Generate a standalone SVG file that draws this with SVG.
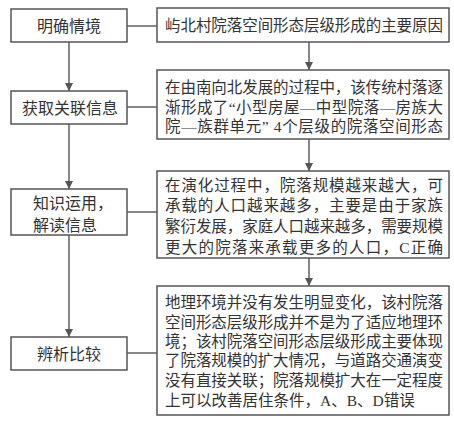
<svg xmlns="http://www.w3.org/2000/svg" width="454" height="426" viewBox="0 0 454 426">
<style>
.box{fill:#fff;stroke:#555;stroke-width:1.5}
.ln{fill:none;stroke:#555;stroke-width:1.4}
text{font-family:"Liberation Serif","Noto Sans CJK SC",serif;fill:#333}
.l{font-size:16px}
.r{font-size:15.5px}
.c{text-anchor:middle}
</style>
<defs>
<marker id="ah" markerWidth="8" markerHeight="10" refX="8" refY="4" orient="auto" markerUnits="userSpaceOnUse">
<path d="M0,0 L8,4 L0,8 Z" fill="#555"/>
</marker>
</defs>
<rect width="454" height="426" fill="#fff"/>
<g id="connectors">
<path class="ln" d="M69,42 V91" marker-end="url(#ah)"/>
<path class="ln" d="M69,124 V189" marker-end="url(#ah)"/>
<path class="ln" d="M69,235 V337" marker-end="url(#ah)"/>
<path class="ln" d="M309,42 V70" marker-end="url(#ah)"/>
<path class="ln" d="M309,139 V171" marker-end="url(#ah)"/>
<path class="ln" d="M309,258 V286" marker-end="url(#ah)"/>
<path class="ln" d="M127,26 H157"/>
<path class="ln" d="M127,107 H157"/>
<path class="ln" d="M127,212 H157"/>
<path class="ln" d="M127,353 H157"/>
</g>
<g id="n1">
<rect class="box" x="11" y="9" width="116" height="33"/>
<text class="l c" x="69" y="31.5">明确情境</text>
</g>
<g id="n2">
<rect class="box" x="11" y="91" width="116" height="33"/>
<text class="l c" x="70" y="113.5">获取关联信息</text>
</g>
<g id="n3">
<rect class="box" x="11" y="189" width="116" height="46"/>
<text class="l" x="33" y="209">知识运用，</text>
<text class="l" x="33" y="231">解读信息</text>
</g>
<g id="n4">
<rect class="box" x="11" y="337" width="116" height="33"/>
<text class="l c" x="69" y="360">辨析比较</text>
</g>
<g id="r1">
<rect class="box" x="157" y="8" width="292" height="34"/>
<text class="r" x="165" y="31" textLength="278" lengthAdjust="spacing">屿北村院落空间形态层级形成的主要原因</text>
</g>
<g id="r2">
<rect class="box" x="157" y="70" width="292" height="69"/>
<text class="r" x="165" y="93" textLength="278" lengthAdjust="spacing">在由南向北发展的过程中，该传统村落逐</text>
<text class="r" x="165" y="113" textLength="278" lengthAdjust="spacing">渐形成了“小型房屋—中型院落—房族大</text>
<text class="r" x="165" y="132" textLength="278" lengthAdjust="spacing">院—族群单元” 4个层级的院落空间形态</text>
</g>
<g id="r3">
<rect class="box" x="157" y="171" width="292" height="87"/>
<text class="r" x="165" y="191" textLength="278" lengthAdjust="spacing">在演化过程中，院落规模越来越大，可</text>
<text class="r" x="165" y="211" textLength="278" lengthAdjust="spacing">承载的人口越来越多，主要是由于家族</text>
<text class="r" x="165" y="232" textLength="278" lengthAdjust="spacing">繁衍发展，家庭人口越来越多，需要规模</text>
<text class="r" x="165" y="253" textLength="278" lengthAdjust="spacing">更大的院落来承载更多的人口，C正确</text>
</g>
<g id="r4">
<rect class="box" x="157" y="286" width="292" height="129"/>
<text class="r" x="165" y="308" textLength="278" lengthAdjust="spacing">地理环境并没有发生明显变化，该村院落</text>
<text class="r" x="165" y="328" textLength="278" lengthAdjust="spacing">空间形态层级形成并不是为了适应地理环</text>
<text class="r" x="165" y="347" textLength="278" lengthAdjust="spacing">境；该村院落空间形态层级形成主要体现</text>
<text class="r" x="165" y="366" textLength="278" lengthAdjust="spacing">了院落规模的扩大情况，与道路交通演变</text>
<text class="r" x="165" y="386" textLength="278" lengthAdjust="spacing">没有直接关联；院落规模扩大在一定程度</text>
<text class="r" x="165" y="406">上可以改善居住条件，A、B、D错误</text>
</g>
</svg>
